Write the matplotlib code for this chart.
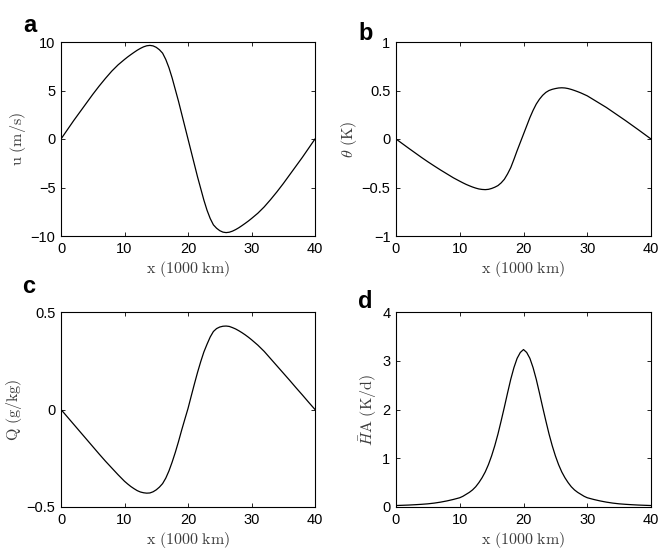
import numpy as np
import matplotlib
matplotlib.use("Agg")
import matplotlib.pyplot as plt

plt.rcParams["font.family"] = ["Liberation Sans", "DejaVu Sans"]
plt.rcParams["mathtext.fontset"] = "cm"

# ---------------------------------------------------------------- data
# x positions (1000 km): coarse on the flanks, finer where the curves bend
x_km = ([0, 1, 2, 3, 4, 5, 6, 7, 8, 9, 10,
         10.5, 11, 11.5, 12, 12.5, 13, 13.5, 14, 14.5, 15, 15.5, 16, 16.5, 17, 17.5, 18, 18.5, 19, 19.5,
         20, 20.5, 21, 21.5, 22, 22.5, 23, 23.5, 24, 24.5, 25, 25.5, 26, 26.5, 27, 27.5, 28, 28.5, 29, 29.5,
         30, 31, 32, 33, 34, 35, 36, 37, 38, 39, 40])

u_ms = [0, 0.95, 1.9, 2.8, 3.7, 4.6, 5.45, 6.25, 7.0, 7.65, 8.2,
        8.46, 8.7, 8.93, 9.15, 9.34, 9.5, 9.61, 9.65, 9.6, 9.45, 9.2, 8.85, 8.2, 7.35, 6.3, 5.1, 3.9, 2.6, 1.3,
        0, -1.3, -2.6, -3.9, -5.1, -6.3, -7.35, -8.2, -8.85, -9.2, -9.45, -9.6, -9.65, -9.61, -9.5, -9.34, -9.15, -8.93, -8.7, -8.46,
        -8.2, -7.65, -7.0, -6.25, -5.45, -4.6, -3.7, -2.8, -1.9, -0.95, 0]

theta_K = [0, -0.048, -0.096, -0.143, -0.19, -0.235, -0.278, -0.32, -0.36, -0.40, -0.435,
           -0.452, -0.468, -0.482, -0.495, -0.506, -0.515, -0.52, -0.522, -0.519, -0.51, -0.497, -0.48, -0.452,
           -0.415, -0.36, -0.295, -0.21, -0.12, -0.035,
           0.05, 0.135, 0.22, 0.295, 0.36, 0.41, 0.45, 0.48, 0.50, 0.512, 0.52, 0.526, 0.528, 0.526, 0.52,
           0.511, 0.50, 0.488, 0.475, 0.46,
           0.445, 0.405, 0.365, 0.325, 0.28, 0.235, 0.19, 0.143, 0.096, 0.048, 0]

Q_gkg = [0, -0.038, -0.076, -0.114, -0.152, -0.19, -0.228, -0.265, -0.30, -0.335, -0.368,
         -0.382, -0.395, -0.406, -0.416, -0.423, -0.427, -0.429, -0.428, -0.422, -0.412, -0.398, -0.38, -0.352,
         -0.315, -0.27, -0.22, -0.165, -0.106, -0.05,
         0.005, 0.068, 0.13, 0.19, 0.245, 0.295, 0.335, 0.372, 0.40, 0.415, 0.423, 0.427, 0.428, 0.426, 0.42,
         0.413, 0.404, 0.394, 0.383, 0.371,
         0.358, 0.33, 0.298, 0.261, 0.224, 0.187, 0.15, 0.112, 0.075, 0.037, 0]

HA_Kd = [0.03, 0.035, 0.04, 0.047, 0.055, 0.065, 0.08, 0.1, 0.125, 0.155, 0.19,
         0.22, 0.26, 0.3, 0.35, 0.415, 0.5, 0.6, 0.72, 0.87, 1.05, 1.26, 1.5, 1.77, 2.05, 2.34, 2.62, 2.86, 3.05, 3.17,
         3.23, 3.17, 3.05, 2.86, 2.62, 2.34, 2.05, 1.77, 1.5, 1.26, 1.05, 0.87, 0.72, 0.6, 0.5, 0.415, 0.35, 0.3, 0.26, 0.22,
         0.19, 0.155, 0.125, 0.1, 0.08, 0.065, 0.055, 0.047, 0.04, 0.035, 0.03]

x_ticks = [0, 10, 20, 30, 40]
u_ticks, u_labels = [-10, -5, 0, 5, 10], ["\u221210", "\u22125", "0", "5", "10"]
th_ticks, th_labels = [-1, -0.5, 0, 0.5, 1], ["\u22121", "\u22120.5", "0", "0.5", "1"]
q_ticks, q_labels = [-0.5, 0, 0.5], ["\u22120.5", "0", "0.5"]
h_ticks, h_labels = [0, 1, 2, 3, 4], ["0", "1", "2", "3", "4"]

panels = [
    # letter, series, ylabel, yticks, ylabels, ylim, axes rect (px), letter pos (px)
    ("a", u_ms, r"$\mathrm{u\ (m/s)}$", u_ticks, u_labels, (-10, 10), (61, 42, 315, 236), (23, 32)),
    ("b", theta_K, r"$\theta\ \mathrm{(K)}$", th_ticks, th_labels, (-1, 1), (396, 42, 651, 236), (358, 40)),
    ("c", Q_gkg, r"$\mathrm{Q\ (g/kg)}$", q_ticks, q_labels, (-0.5, 0.5), (61, 312, 315, 507), (22, 293)),
    ("d", HA_Kd, r"$\bar{H}\mathrm{A\ (K/d)}$", h_ticks, h_labels, (0, 4), (396, 312, 651, 507), (358, 308)),
]

W, H = 664, 552
fig = plt.figure(figsize=(W / 100, H / 100), dpi=100)
fig.patch.set_facecolor("white")

LABEL_GREY = "#3c3c3c"

for letter, series, ylab, yt, ytl, ylim, (l, t, r, b), (lx, ly) in panels:
    ax = fig.add_axes([l / W, 1 - b / H, (r - l) / W, (b - t) / H])
    ax.plot(x_km, series, color="black", lw=0.9)
    ax.set_xlim(0, 40)
    ax.set_ylim(*ylim)
    ax.set_xticks(x_ticks)
    ax.set_xticklabels([str(v) for v in x_ticks])
    ax.set_yticks(yt)
    ax.set_yticklabels(ytl)
    ax.tick_params(direction="in", top=True, right=True, length=3, width=0.6,
                   labelsize=10.5, pad=4.5, colors="black")
    ax.tick_params(axis="y", pad=4)
    for sp in ax.spines.values():
        sp.set_linewidth(0.8)
        sp.set_edgecolor("black")
    ax.set_xlabel(r"$\mathrm{x\ (1000\ km)}$", fontsize=11.5, color=LABEL_GREY, labelpad=2)
    ax.set_ylabel(ylab, fontsize=11.5, color=LABEL_GREY, labelpad=2)
    fig.text(lx / W, 1 - ly / H, letter, fontsize=17, fontweight="bold",
             ha="left", va="baseline")

fig.savefig("out.png", dpi=100)
plt.close(fig)
